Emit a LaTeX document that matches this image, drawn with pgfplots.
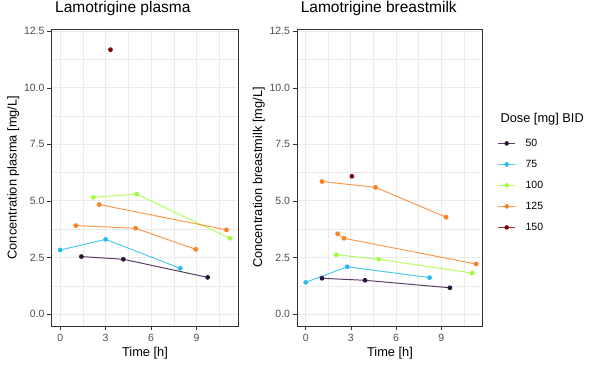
\documentclass[border=0pt]{standalone}
\usepackage{pgfplots}
\pgfplotsset{compat=1.18}
\usepackage{fontspec}
\setmainfont{Liberation Sans}
\definecolor{cA}{HTML}{30123B}
\definecolor{cB}{HTML}{28BBEC}
\definecolor{cC}{HTML}{A2FC3C}
\definecolor{cD}{HTML}{FB8022}
\definecolor{cE}{HTML}{7A0403}
\definecolor{gridc}{HTML}{EBEBEB}
\definecolor{framec}{HTML}{333333}
\definecolor{tickgray}{HTML}{4D4D4D}
\pgfplotsset{
  panel/.style={
    scale only axis, width=186.6pt, height=296.7pt,
    xmin=-0.56, xmax=11.76, ymin=-0.53, ymax=12.59,
    xtick={0,3,6,9}, ytick={0,2.5,5,7.5,10,12.5},
    minor xtick={1.5,4.5,7.5,10.5}, minor ytick={1.25,3.75,6.25,8.75,11.25},
    /pgf/number format/assume math mode=true,
    xticklabel={\pgfmathprintnumber[fixed,precision=0]{\tick}},
    yticklabel={\pgfmathprintnumber[fixed,fixed zerofill,precision=1]{\tick}},
    grid=both,
    major grid style={draw=gridc, line width=0.9pt},
    minor grid style={draw=gridc, line width=0.45pt},
    axis line style={draw=framec, line width=0.9pt},
    tick align=outside, xtick pos=bottom, ytick pos=left,
    major tick length=4.5pt, minor tick length=0pt,
    every tick/.style={draw=framec, line width=0.7pt},
    ticklabel style={font=\fontsize{10.5}{12}\selectfont, text=tickgray},
    yticklabel style={xshift=0.8pt},
    xlabel={Time [h]},
    every axis x label/.style={at={(0.5,0)}, anchor=center, yshift=-27pt, font=\fontsize{12.8}{14}\selectfont},
    every axis y label/.style={at={(0,0.5)}, xshift=-38.4pt, rotate=90, anchor=center, font=\fontsize{12.8}{14}\selectfont},
    title style={at={(0,1)}, anchor=base west, yshift=10.3pt, font=\fontsize{15.5}{17}\selectfont},
    every axis plot/.append style={line width=1pt, mark=*, mark size=2.4pt},
  },
  doseA/.style={draw=cA, draw opacity=0.8, mark options={fill=cA, draw opacity=0, fill opacity=1}},
  doseB/.style={draw=cB, draw opacity=0.8, mark options={fill=cB, draw opacity=0, fill opacity=1}},
  doseC/.style={draw=cC, draw opacity=0.8, mark options={fill=cC, draw opacity=0, fill opacity=1}},
  doseD/.style={draw=cD, draw opacity=0.8, mark options={fill=cD, draw opacity=0, fill opacity=1}},
  doseE/.style={draw=cE, draw opacity=0.8, mark options={fill=cE, draw opacity=0, fill opacity=1}},
}
\begin{document}
\begin{tikzpicture}
\useasboundingbox (0pt,0pt) rectangle (605pt,374pt);
\begin{axis}[panel, at={(51.7pt,48pt)}, anchor=south west,
  title={Lamotrigine plasma}, ylabel={Concentration plasma [mg/L]}]
\addplot[doseA] coordinates {(1.40,2.54) (4.17,2.42) (9.74,1.62)};
\addplot[doseB] coordinates {(0.0,2.83) (3.0,3.30) (7.93,2.02)};
\addplot[doseC] coordinates {(2.19,5.16) (5.05,5.30) (11.2,3.35)};
\addplot[doseD] coordinates {(2.58,4.84) (10.98,3.72)};
\addplot[doseD] coordinates {(1.03,3.91) (4.98,3.79) (8.95,2.86)};
\addplot[doseE] coordinates {(3.32,11.69)};
\end{axis}
\begin{axis}[panel, at={(297.3pt,48pt)}, anchor=south west, width=185.4pt,
  title={Lamotrigine breastmilk}, ylabel={Concentration breastmilk [mg/L]},
  legend style={at={(1,1)}, anchor=north west, xshift=15pt, yshift=-107.5pt, draw=none, fill=none,
    font=\fontsize{10.5}{12}\selectfont, row sep=8.2pt, cells={anchor=west},
    /tikz/every odd column/.style={column sep=8pt}, inner sep=0pt},
  legend image code/.code={\draw[mark repeat=2,mark phase=2,#1] plot coordinates {(0pt,0pt) (8.3pt,0pt) (16.7pt,0pt)};}]
\addlegendimage{draw=cA, draw opacity=0.8, line width=1pt, mark=*, mark size=2.3pt, mark options={fill=cA, draw opacity=0}}
\addlegendentry{50}
\addlegendimage{draw=cB, draw opacity=0.8, line width=1pt, mark=*, mark size=2.3pt, mark options={fill=cB, draw opacity=0}}
\addlegendentry{75}
\addlegendimage{draw=cC, draw opacity=0.8, line width=1pt, mark=*, mark size=2.3pt, mark options={fill=cC, draw opacity=0}}
\addlegendentry{100}
\addlegendimage{draw=cD, draw opacity=0.8, line width=1pt, mark=*, mark size=2.3pt, mark options={fill=cD, draw opacity=0}}
\addlegendentry{125}
\addlegendimage{draw=cE, draw opacity=0.8, line width=1pt, mark=*, mark size=2.3pt, mark options={fill=cE, draw opacity=0}}
\addlegendentry{150}
\addplot[doseD, forget plot] coordinates {(1.08,5.86) (4.64,5.60) (9.33,4.28)};
\addplot[doseD, forget plot] coordinates {(2.12,3.55) (2.54,3.35) (11.32,2.21)};
\addplot[doseC, forget plot] coordinates {(2.03,2.62) (4.84,2.42) (11.06,1.81)};
\addplot[doseB, forget plot] coordinates {(0.0,1.40) (2.76,2.09) (8.23,1.61)};
\addplot[doseA, forget plot] coordinates {(1.08,1.58) (3.94,1.49) (9.58,1.16)};
\addplot[doseE, forget plot] coordinates {(3.07,6.09)};
\end{axis}
\node[anchor=base west, font=\fontsize{12.8}{14}\selectfont] at (497pt,374pt-123pt) {Dose [mg] BID};
\end{tikzpicture}
\end{document}
